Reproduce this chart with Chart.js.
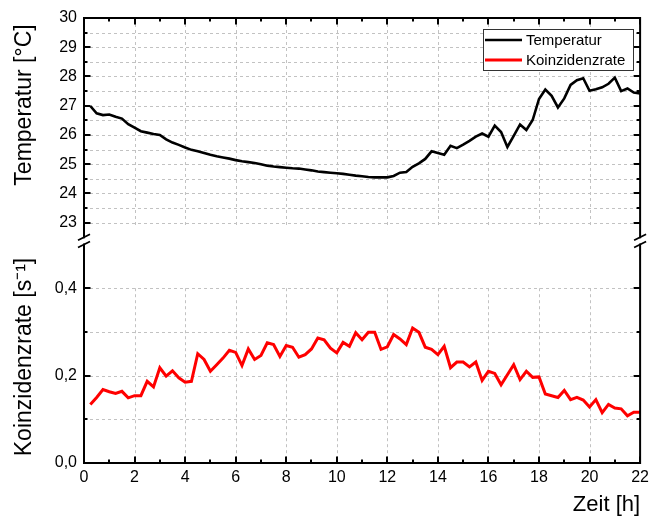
<!DOCTYPE html>
<html>
<head>
<meta charset="utf-8">
<script src="https://cdn.jsdelivr.net/npm/chart.js@4.4.1/dist/chart.umd.min.js"></script>
<style>
  html, body { margin: 0; padding: 0; background: #fff; }
  #wrap { width: 654px; height: 518px; }
</style>
</head>
<body>
<div id="wrap"><canvas id="chart" width="654" height="518"></canvas></div>
<script>
/* ---------- data ---------- */
const hours = [
  0.25, 0.5, 0.75, 1, 1.25, 1.5, 1.75, 2, 2.25, 2.5, 2.75, 3,
  3.25, 3.5, 3.75, 4, 4.25, 4.5, 4.75, 5, 5.25, 5.5, 5.75, 6,
  6.25, 6.5, 6.75, 7, 7.25, 7.5, 7.75, 8, 8.25, 8.5, 8.75, 9,
  9.25, 9.5, 9.75, 10, 10.25, 10.5, 10.75, 11, 11.25, 11.5, 11.75, 12,
  12.25, 12.5, 12.75, 13, 13.25, 13.5, 13.75, 14, 14.25, 14.5, 14.75, 15,
  15.25, 15.5, 15.75, 16, 16.25, 16.5, 16.75, 17, 17.25, 17.5, 17.75, 18,
  18.25, 18.5, 18.75, 19, 19.25, 19.5, 19.75, 20, 20.25, 20.5, 20.75, 21,
  21.25, 21.5, 21.75, 22
];

// Temperatur [°C]
const temperature = [
  26.99, 26.74, 26.68, 26.70, 26.62, 26.56, 26.37, 26.25,
  26.13, 26.08, 26.03, 26.00, 25.85, 25.74, 25.66, 25.57,
  25.49, 25.44, 25.38, 25.32, 25.27, 25.23, 25.19, 25.14,
  25.10, 25.07, 25.04, 25.00, 24.95, 24.92, 24.90, 24.88,
  24.86, 24.85, 24.82, 24.79, 24.75, 24.73, 24.71, 24.69,
  24.67, 24.64, 24.61, 24.59, 24.56, 24.55, 24.55, 24.55,
  24.60, 24.71, 24.73, 24.91, 25.03, 25.18, 25.44, 25.38,
  25.32, 25.63, 25.55, 25.67, 25.80, 25.94, 26.05, 25.94,
  26.32, 26.10, 25.59, 25.97, 26.36, 26.17, 26.51, 27.23,
  27.55, 27.34, 26.94, 27.25, 27.71, 27.87, 27.94, 27.51,
  27.56, 27.63, 27.75, 27.96, 27.50, 27.59, 27.45, 27.42
];

// Koinzidenzrate [1/s]
const rate = [
  0.134, 0.150, 0.168, 0.163, 0.159, 0.164, 0.149, 0.154,
  0.154, 0.187, 0.174, 0.218, 0.199, 0.211, 0.195, 0.185,
  0.187, 0.250, 0.237, 0.210, 0.225, 0.240, 0.258, 0.253,
  0.223, 0.261, 0.237, 0.246, 0.275, 0.271, 0.244, 0.269,
  0.265, 0.242, 0.248, 0.261, 0.286, 0.282, 0.263, 0.252,
  0.276, 0.267, 0.298, 0.282, 0.299, 0.299, 0.260, 0.266,
  0.294, 0.284, 0.271, 0.309, 0.299, 0.265, 0.260, 0.248,
  0.267, 0.218, 0.231, 0.231, 0.220, 0.231, 0.189, 0.210,
  0.205, 0.179, 0.202, 0.225, 0.191, 0.210, 0.196, 0.197,
  0.158, 0.154, 0.150, 0.166, 0.145, 0.150, 0.144, 0.128,
  0.145, 0.115, 0.134, 0.126, 0.124, 0.108, 0.116, 0.116
];

const seriesNames = ["Temperatur", "Koinzidenzrate"];

// ticks
const hourTicks = [0, 1, 2, 3, 4, 5, 6, 7, 8, 9, 10, 11, 12, 13, 14, 15, 16, 17, 18, 19, 20, 21, 22];
const tempTicks = [23, 23.5, 24, 24.5, 25, 25.5, 26, 26.5, 27, 27.5, 28, 28.5, 29, 29.5, 30];
const rateTicks = [0, 0.1, 0.2, 0.3, 0.4];

/* ---------- look ---------- */
const FONT = "'Liberation Sans', Arial, sans-serif";
const GRID_COLOR = "#c2c2c2";
const GRID_DASH = [3, 3];
const MAJOR = 6.5, MINOR = 3.5;

// axis ranges (lower range reaches a bit past the break at 0.5)
const TEMP_MIN = 22.5, TEMP_MAX = 30;
const RATE_MIN = 0, RATE_BREAK = 0.5, RATE_MAX = 0.5165;
const TEMP_VGRID_END = 22.85, RATE_VGRID_END = 0.4;

const dec = v => v.toFixed(1).replace(".", ",");

const decorations = {
  id: "decorations",
  beforeDatasetsDraw(chart) {
    const { ctx, chartArea: a, scales: { x, yT, yR } } = chart;
    ctx.save();
    ctx.strokeStyle = GRID_COLOR;
    ctx.lineWidth = 1;
    ctx.setLineDash(GRID_DASH);
    ctx.beginPath();
    // horizontal grid lines
    tempTicks.forEach(v => {
      if (v === TEMP_MAX) return;
      const py = Math.round(yT.getPixelForValue(v)) + 0.5;
      ctx.moveTo(a.left, py); ctx.lineTo(a.right, py);
    });
    rateTicks.forEach(v => {
      if (v === RATE_MIN) return;
      const py = Math.round(yR.getPixelForValue(v)) + 0.5;
      ctx.moveTo(a.left, py); ctx.lineTo(a.right, py);
    });
    // vertical grid lines, each panel on its own
    hourTicks.forEach(h => {
      if (h % 2 !== 0 || h === 0 || h === 22) return;
      const px = Math.round(x.getPixelForValue(h)) + 0.5;
      ctx.moveTo(px, yT.getPixelForValue(TEMP_MAX));
      ctx.lineTo(px, yT.getPixelForValue(TEMP_VGRID_END));
      ctx.moveTo(px, yR.getPixelForValue(RATE_VGRID_END));
      ctx.lineTo(px, yR.getPixelForValue(RATE_MIN));
    });
    ctx.stroke();
    ctx.restore();
  },
  afterDatasetsDraw(chart) {
    const { ctx, chartArea: a, scales: { x, yT, yR } } = chart;
    ctx.save();
    ctx.setLineDash([]);
    ctx.strokeStyle = "#000";
    ctx.lineWidth = 2;
    ctx.strokeRect(a.left, a.top, a.right - a.left, a.bottom - a.top);

    // inward tick marks on all four sides
    ctx.beginPath();
    hourTicks.forEach(h => {
      const px = Math.round(x.getPixelForValue(h));
      const len = h % 2 === 0 ? MAJOR : MINOR;
      ctx.moveTo(px, a.bottom); ctx.lineTo(px, a.bottom - len);
      ctx.moveTo(px, a.top); ctx.lineTo(px, a.top + len);
    });
    tempTicks.forEach(v => {
      const py = Math.round(yT.getPixelForValue(v));
      const len = Number.isInteger(v) ? MAJOR : MINOR;
      ctx.moveTo(a.left, py); ctx.lineTo(a.left + len, py);
      ctx.moveTo(a.right, py); ctx.lineTo(a.right - len, py);
    });
    rateTicks.forEach(v => {
      const py = Math.round(yR.getPixelForValue(v));
      const len = Math.round(v * 10) % 2 === 0 ? MAJOR : MINOR;
      ctx.moveTo(a.left, py); ctx.lineTo(a.left + len, py);
      ctx.moveTo(a.right, py); ctx.lineTo(a.right - len, py);
    });
    ctx.stroke();

    // axis break marks
    const yTop = yT.getPixelForValue(TEMP_MIN);
    const yBot = yR.getPixelForValue(RATE_BREAK);
    ctx.lineWidth = 1.8;
    [a.left, a.right].forEach(ax => {
      ctx.fillStyle = "#fff";
      ctx.fillRect(ax - 3, yTop + 1, 6, yBot - yTop - 2);
      ctx.beginPath();
      [yTop, yBot].forEach(yy => {
        ctx.moveTo(ax - 6, yy + 3);
        ctx.lineTo(ax + 6, yy - 3);
      });
      ctx.stroke();
    });

    // legend box
    ctx.fillStyle = "#fff";
    ctx.fillRect(483.5, 29.5, 150, 41);
    ctx.strokeStyle = "#333";
    ctx.lineWidth = 1;
    ctx.strokeRect(483.5, 29.5, 150, 41);
    const items = [
      { name: seriesNames[0], color: "#000", width: 2.4, y: 40 },
      { name: seriesNames[1], color: "#ff0000", width: 2.8, y: 60 }
    ];
    ctx.font = "15px " + FONT;
    ctx.textBaseline = "middle";
    ctx.textAlign = "left";
    items.forEach(it => {
      ctx.strokeStyle = it.color;
      ctx.lineWidth = it.width;
      ctx.beginPath();
      ctx.moveTo(485, it.y); ctx.lineTo(522, it.y);
      ctx.stroke();
      ctx.fillStyle = "#000";
      ctx.fillText(it.name, 526, it.y + 1);
    });

    // y axis titles
    ctx.font = "23px " + FONT;
    ctx.textAlign = "center";
    ctx.textBaseline = "middle";
    ctx.fillStyle = "#000";
    [["Temperatur [°C]", 105], ["Koinzidenzrate [s⁻¹]", 357]].forEach(([t, cy]) => {
      ctx.save();
      ctx.translate(25, cy);
      ctx.rotate(-Math.PI / 2);
      ctx.fillText(t, 0, 0);
      ctx.restore();
    });
    ctx.restore();
  }
};

const tickFont = { family: FONT, size: 16 };

new Chart(document.getElementById("chart"), {
  type: "line",
  data: {
    datasets: [
      {
        label: seriesNames[0],
        data: hours.map((h, i) => ({ x: h, y: temperature[i] })),
        yAxisID: "yT",
        borderColor: "#000",
        borderWidth: 2.6,
        pointRadius: 0,
        tension: 0,
        fill: false
      },
      {
        label: seriesNames[1],
        data: hours.map((h, i) => ({ x: h, y: rate[i] })),
        yAxisID: "yR",
        borderColor: "#ff0000",
        borderWidth: 3,
        pointRadius: 0,
        tension: 0,
        fill: false
      }
    ]
  },
  options: {
    responsive: false,
    animation: false,
    events: [],
    layout: { padding: { top: 18, right: 11, left: 0, bottom: 0 } },
    plugins: { legend: { display: false }, tooltip: { enabled: false } },
    scales: {
      x: {
        type: "linear",
        min: 0,
        max: 22,
        afterBuildTicks: ax => { ax.ticks = hourTicks.map(v => ({ value: v })); },
        afterFit: ax => { ax.height = 55; },
        grid: { display: false, drawTicks: false },
        border: { display: false },
        ticks: {
          callback: v => (v % 2 === 0 ? String(v) : ""),
          font: tickFont, color: "#000", padding: 5,
          maxRotation: 0, autoSkip: false
        },
        title: {
          display: true, text: "Zeit [h]", align: "end",
          font: { family: FONT, size: 22 }, color: "#000",
          padding: { top: 0, bottom: 0 }
        }
      },
      yR: {
        type: "linear",
        position: "left",
        stack: "v",
        stackWeight: 225.7,
        min: RATE_MIN,
        max: RATE_MAX,
        afterBuildTicks: ax => { ax.ticks = rateTicks.map(v => ({ value: v })); },
        afterFit: ax => { ax.width = 84; },
        grid: { display: false, drawTicks: false },
        border: { display: false },
        ticks: {
          callback: v => (Math.round(v * 10) % 2 === 0 ? dec(v) : ""),
          font: tickFont, color: "#000", padding: 7, autoSkip: false
        }
      },
      yT: {
        type: "linear",
        position: "left",
        stack: "v",
        stackWeight: 219.3,
        min: TEMP_MIN,
        max: TEMP_MAX,
        afterBuildTicks: ax => { ax.ticks = tempTicks.map(v => ({ value: v })); },
        afterFit: ax => { ax.width = 84; },
        grid: { display: false, drawTicks: false },
        border: { display: false },
        ticks: {
          callback: v => (Number.isInteger(v) ? String(v) : ""),
          font: tickFont, color: "#000", padding: 7, autoSkip: false
        }
      }
    }
  },
  plugins: [decorations]
});
</script>
</body>
</html>
